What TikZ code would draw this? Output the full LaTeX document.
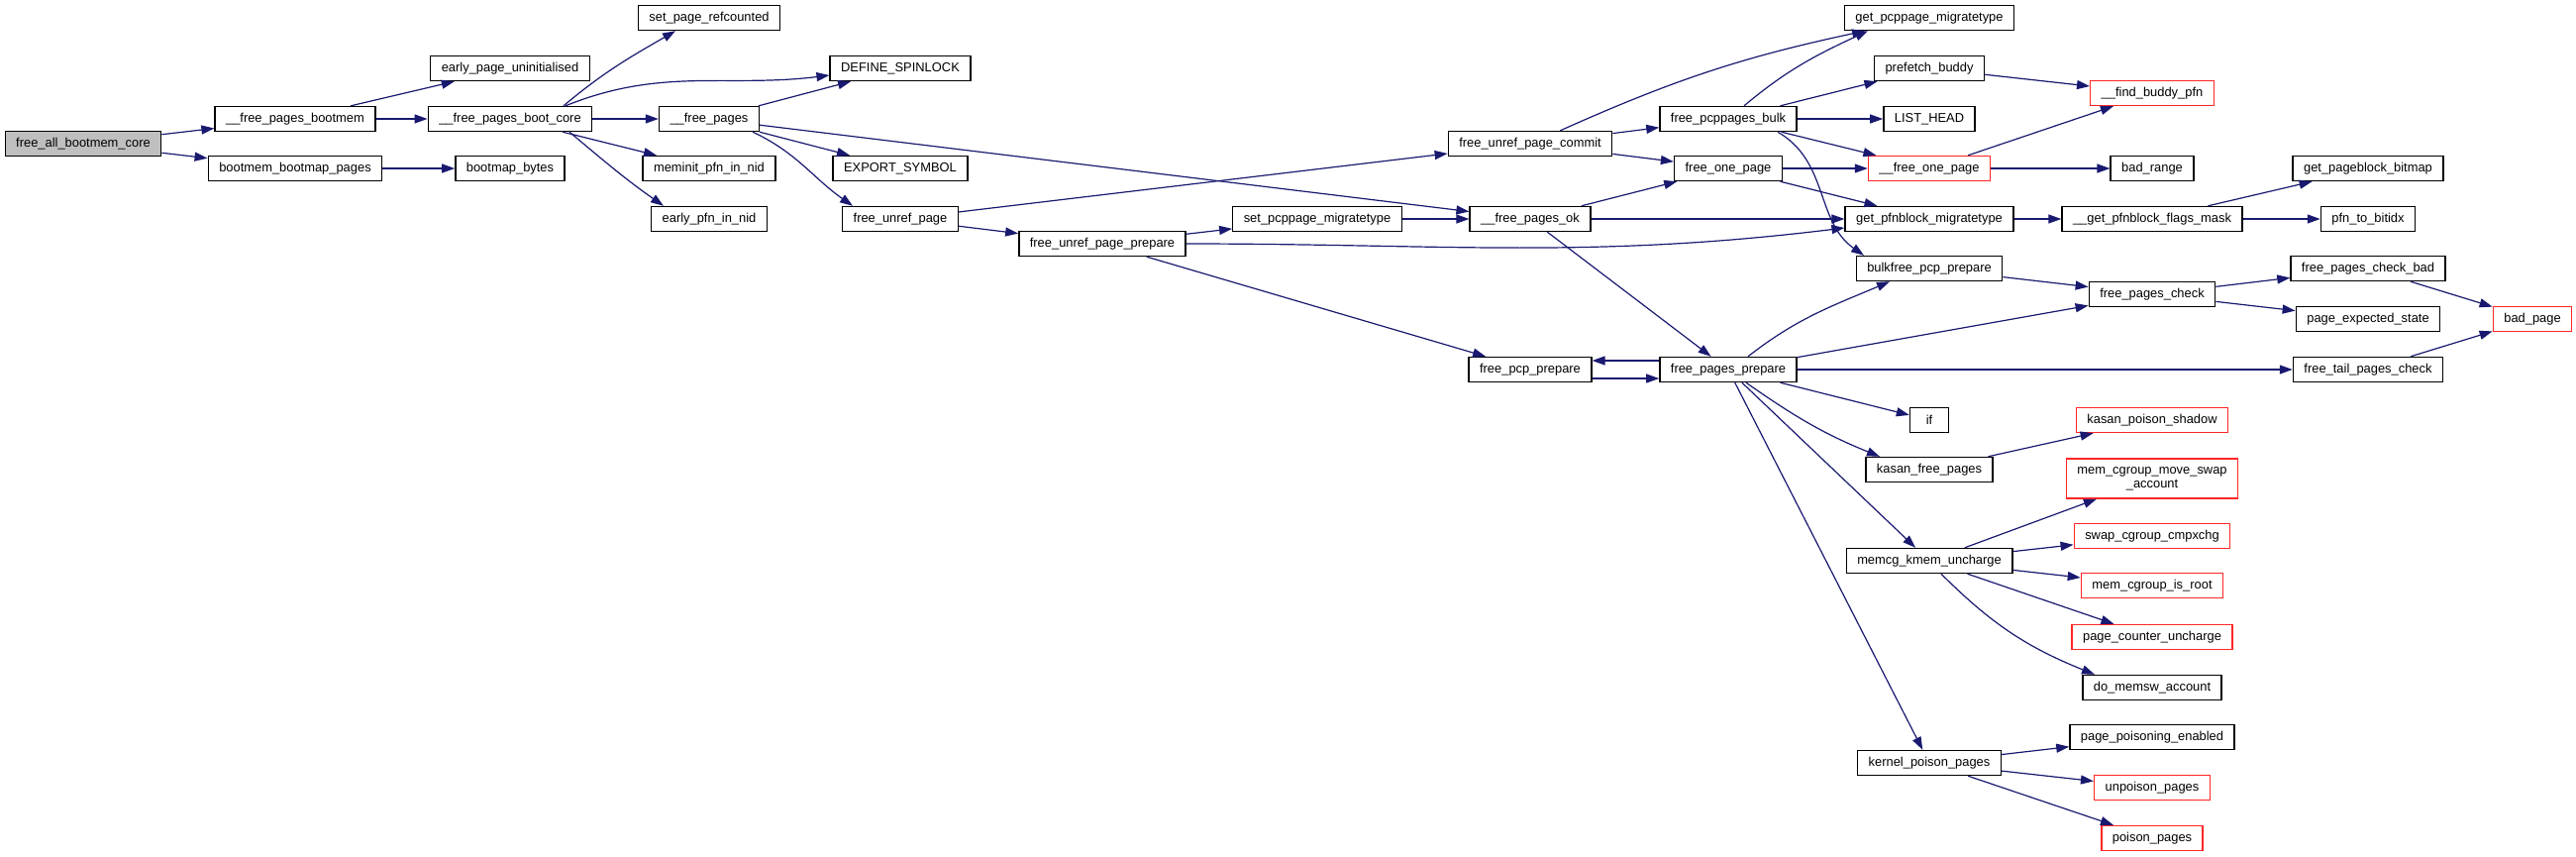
\documentclass[tikz,border=0pt]{standalone}
\usepackage{fontspec}
\setsansfont{Liberation Sans}
\usetikzlibrary{arrows.meta}
\definecolor{midblue}{RGB}{25,25,112}
\definecolor{rootgray}{RGB}{191,191,191}

\begin{document}
\begin{tikzpicture}[x=0.5pt,y=0.5pt,>={Triangle[length=6.5pt,width=4.5pt]},
  fn/.style={draw=black,line width=0.7pt,fill=white,font=\sffamily\fontsize{6.45}{7}\selectfont,minimum height=12.5pt,minimum width=19.5pt,inner xsep=5.5pt,inner ysep=0pt},
  trunc/.style={fn,draw=red!85},
  root/.style={fn,fill=rootgray},
  call/.style={->,draw=midblue,line width=0.6pt}]
\useasboundingbox (0,0) rectangle (2601,-864);
% first columns
\node[root] (fabc) at (84,-145) {free\_all\_bootmem\_core};
\node[fn] (fpbm) at (298,-120) {\_\_free\_pages\_bootmem};
\node[fn] (bbp) at (298,-170) {bootmem\_bootmap\_pages};
\node[fn] (epu) at (515,-69) {early\_page\_uninitialised};
\node[fn] (fpbc) at (515,-120) {\_\_free\_pages\_boot\_core};
\node[fn] (bmb) at (515,-170) {bootmap\_bytes};
\node[fn] (spr) at (716,-18) {set\_page\_refcounted};
\node[fn] (fpg) at (716,-120) {\_\_free\_pages};
\node[fn] (mpin) at (716,-170) {meminit\_pfn\_in\_nid};
\node[fn] (epin) at (716,-221) {early\_pfn\_in\_nid};
\node[fn] (dsl) at (909,-69) {DEFINE\_SPINLOCK};
\node[fn] (exs) at (909,-170) {EXPORT\_SYMBOL};
\node[fn] (fup) at (909,-221) {free\_unref\_page};
\node[fn] (fupp) at (1113,-246) {free\_unref\_page\_prepare};
\node[fn] (spm) at (1330,-221) {set\_pcppage\_migratetype};
% middle
\node[fn] (fupc) at (1545,-145) {free\_unref\_page\_commit};
\node[fn] (fpo) at (1545,-221) {\_\_free\_pages\_ok};
\node[fn] (fpcp) at (1545,-373) {free\_pcp\_prepare};
\node[fn] (fpb) at (1745,-120) {free\_pcppages\_bulk};
\node[fn] (fop) at (1745,-170) {free\_one\_page};
\node[fn] (fpp) at (1745,-373) {free\_pages\_prepare};
\node[fn] (gpcm) at (1948,-18) {get\_pcppage\_migratetype};
\node[fn] (pfb) at (1948,-69) {prefetch\_buddy};
\node[fn] (lh) at (1948,-120) {LIST\_HEAD};
\node[trunc] (ufop) at (1948,-170) {\_\_free\_one\_page};
\node[fn] (gpm) at (1948,-221) {get\_pfnblock\_migratetype};
\node[fn] (bpp) at (1948,-271) {bulkfree\_pcp\_prepare};
\node[fn] (ifn) at (1948,-424) {if};
\node[fn] (kfp) at (1948,-474) {kasan\_free\_pages};
\node[fn] (mku) at (1948,-566) {memcg\_kmem\_uncharge};
\node[fn] (kpp) at (1948,-770) {kernel\_poison\_pages};
% right columns
\node[trunc] (fbp) at (2173,-94) {\_\_find\_buddy\_pfn};
\node[fn] (br) at (2173,-170) {bad\_range};
\node[fn] (gfm) at (2173,-221) {\_\_get\_pfnblock\_flags\_mask};
\node[fn] (fpc) at (2173,-297) {free\_pages\_check};
\node[trunc] (kps) at (2173,-424) {kasan\_poison\_shadow};
\node[trunc,align=center,minimum height=20pt] (mcms) at (2173,-483) {mem\_cgroup\_move\_swap\\\_account};
\node[trunc] (scc) at (2173,-541) {swap\_cgroup\_cmpxchg};
\node[trunc] (mcir) at (2173,-591) {mem\_cgroup\_is\_root};
\node[trunc] (pcu) at (2173,-643) {page\_counter\_uncharge};
\node[fn] (dma) at (2173,-694) {do\_memsw\_account};
\node[fn] (ppe) at (2173,-744) {page\_poisoning\_enabled};
\node[trunc] (upp) at (2173,-795) {unpoison\_pages};
\node[trunc] (pp) at (2173,-846) {poison\_pages};
\node[fn] (gpb) at (2391,-170) {get\_pageblock\_bitmap};
\node[fn] (ptb) at (2391,-221) {pfn\_to\_bitidx};
\node[fn] (fpcb) at (2391,-271) {free\_pages\_check\_bad};
\node[fn] (pes) at (2391,-322) {page\_expected\_state};
\node[fn] (ftpc) at (2391,-373) {free\_tail\_pages\_check};
\node[trunc] (bp) at (2557,-322) {bad\_page};
% calls
\draw[call] (fabc) -- (fpbm);
\draw[call] (fabc) -- (bbp);
\draw[call] (fpbm) -- (epu);
\draw[call] (fpbm) -- (fpbc);
\draw[call] (bbp) -- (bmb);
\draw[call] ([xshift=27pt]fpbc.north) to[out=40,in=210] ([xshift=-17pt]spr.south);
\draw[call] ([xshift=28pt]fpbc.north) to[out=22,in=187] ([yshift=-3.5pt]dsl.west);
\draw[call] (fpbc) -- (fpg);
\draw[call] (fpbc) -- (mpin);
\draw[call] ([xshift=30pt]fpbc.south) to[out=-40,in=145] ([xshift=-23pt]epin.north);
\draw[call] (fpg) -- (dsl);
\draw[call] (fpg) -- (exs);
\draw[call] ([xshift=22pt]fpg.south) to[out=-25,in=145] ([xshift=-24pt]fup.north);
\draw[call] (fpg) -- (fpo);
\draw[call] (fup) -- (fupc);
\draw[call] (fup) -- (fupp);
\draw[call] (fupp) -- (spm);
\draw[call] (fupp.east) to[out=0,in=187] ([yshift=-4.5pt]gpm.west);
\draw[call] (fupp) -- (fpcp);
\draw[call] (spm) -- (fpo);
\draw[call] (fupc) to[bend left=6] (gpcm);
\draw[call] (fupc) -- (fpb);
\draw[call] (fupc) -- (fop);
\draw[call] (fpo) -- (fop);
\draw[call] (fpo) -- (gpm);
\draw[call] (fpo) -- (fpp);
\draw[call] ([xshift=8pt]fpb.north) to[out=40,in=205] ([xshift=-31pt]gpcm.south);
\draw[call] (fpb) -- (pfb);
\draw[call] (fpb) -- (lh);
\draw[call] (fpb) -- (ufop);
\draw[call] ([xshift=25pt]fpb.south) to[out=-30,in=145] ([xshift=-33pt]bpp.north);
\draw[call] (fop) -- (ufop);
\draw[call] (fop) -- (gpm);
\draw[call] (pfb) -- (fbp);
\draw[call] (ufop) -- (fbp);
\draw[call] (ufop) -- (br);
\draw[call] (gpm) -- (gfm);
\draw[call] (gfm) -- (gpb);
\draw[call] (gfm) -- (ptb);
\draw[call] (bpp) -- (fpc);
\draw[call] (fpc) -- (fpcb);
\draw[call] (fpc) -- (pes);
\draw[call] (fpcb) -- (bp);
\draw[call] (ftpc) -- (bp);
\draw[call] ([yshift=4.5pt]fpp.west) -- ([yshift=4.5pt]fpcp.east);
\draw[call] ([yshift=-4.5pt]fpcp.east) -- ([yshift=-4.5pt]fpp.west);
\draw[call] ([xshift=10pt]fpp.north) to[out=38,in=203] ([xshift=-20pt]bpp.south);
\draw[call] (fpp) -- (fpc);
\draw[call] (fpp) -- (ftpc);
\draw[call] (fpp) -- (ifn);
\draw[call] ([xshift=9pt]fpp.south) to[out=-35,in=158] ([xshift=-25pt]kfp.north);
\draw[call] (fpp) -- (mku);
\draw[call] (fpp) -- (kpp);
\draw[call] (kfp) -- (kps);
\draw[call] (mku) -- (mcms);
\draw[call] (mku) -- (scc);
\draw[call] (mku) -- (mcir);
\draw[call] (mku) -- (pcu);
\draw[call] ([xshift=6pt]mku.south) to[out=-45,in=158] ([xshift=-29pt]dma.north);
\draw[call] (kpp) -- (ppe);
\draw[call] (kpp) -- (upp);
\draw[call] (kpp) -- (pp);
\end{tikzpicture}
\end{document}
